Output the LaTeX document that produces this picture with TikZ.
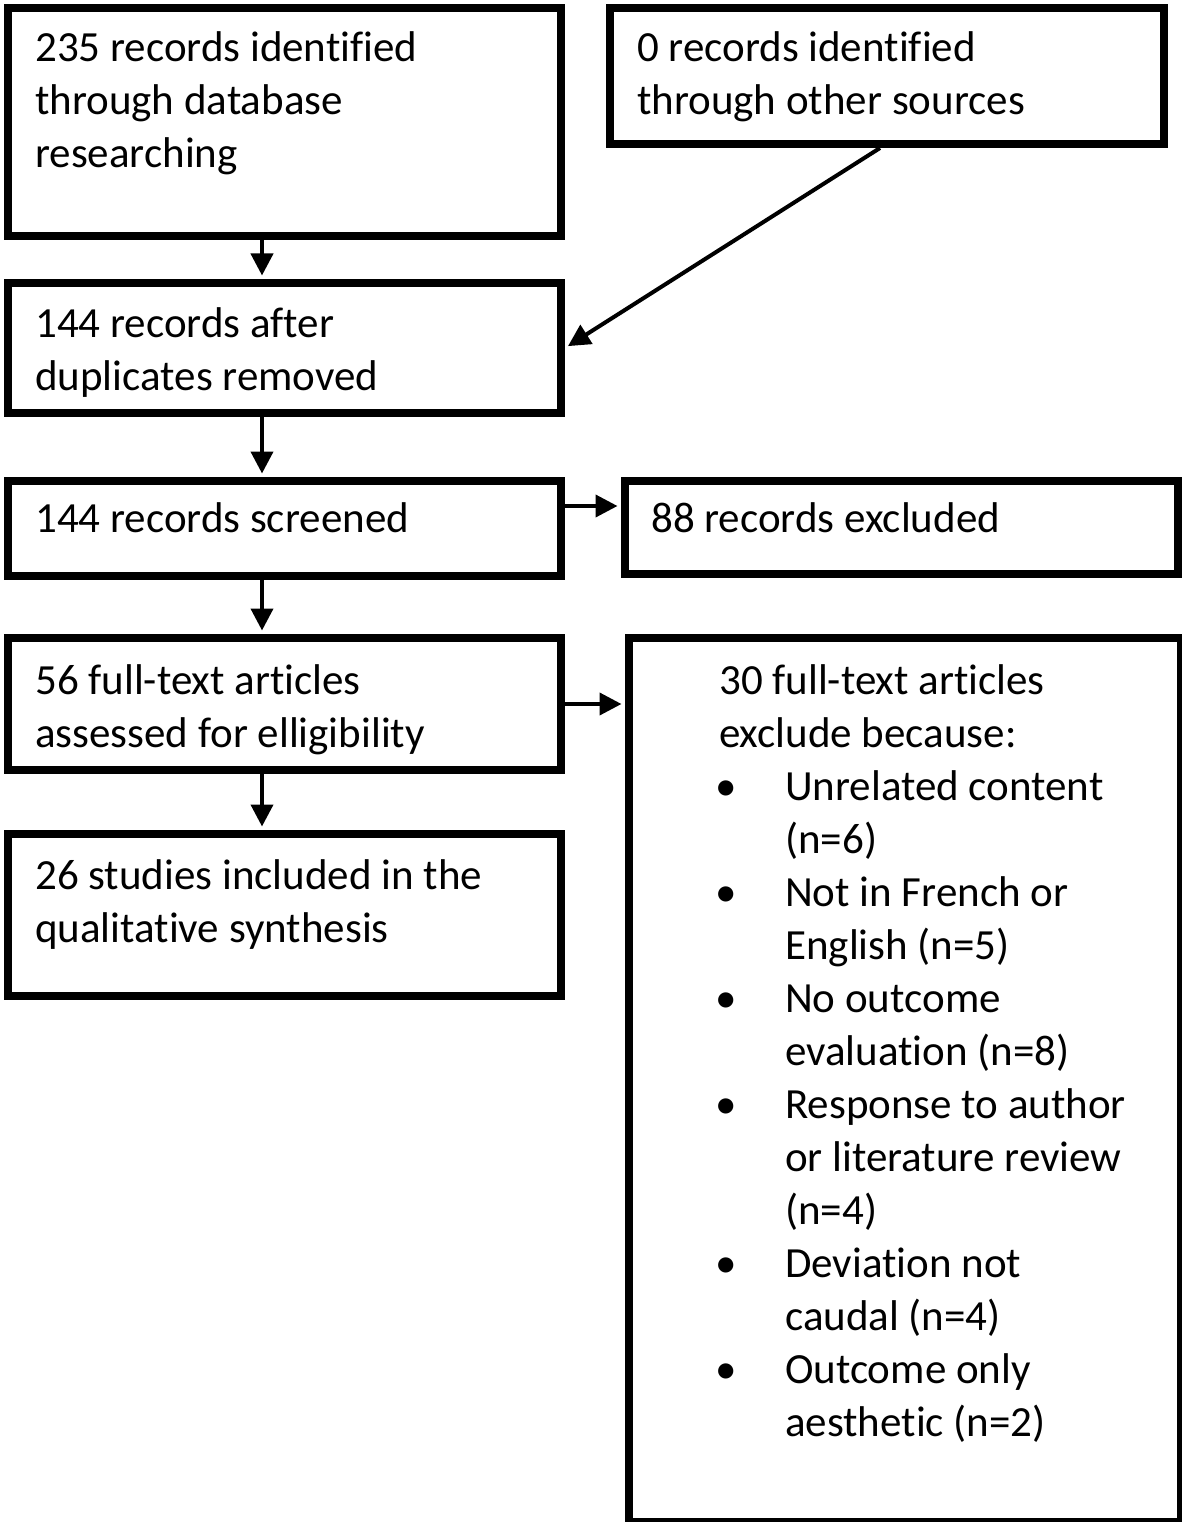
\documentclass[tikz,border=0pt]{standalone}
\usepackage{fontspec}
\setmainfont[Ligatures=NoCommon]{Carlito}
\usetikzlibrary{arrows.meta}
\tikzset{
  box/.style={draw=black, line width=8pt, rectangle, inner sep=0pt, anchor=north west},
  txt/.style={anchor=base west, inner sep=0pt, font=\fontsize{43}{53}\selectfont},
  arr/.style={draw=black, line width=4pt, -{Triangle[length=22pt,width=22pt]}, shorten >=3.5pt}
}
\newcommand{\bl}{\makebox[66pt][l]{\hspace*{-4pt}•}}
\newcommand{\nb}{\hspace*{66pt}}
\begin{document}
\begin{tikzpicture}[x=1pt,y=-1pt]
\useasboundingbox (0,0) rectangle (1181,1522);
% boxes (centre line of border)
\node[box, minimum width=553pt, minimum height=228pt] (b1) at (4,4) {};
\node[box, minimum width=554pt, minimum height=136pt] (b2) at (606,4) {};
\node[box, minimum width=553pt, minimum height=130pt] (b3) at (4,279) {};
\node[box, minimum width=553pt, minimum height=95pt] (b4) at (4,477) {};
\node[box, minimum width=553pt, minimum height=93pt] (b5) at (621,477) {};
\node[box, minimum width=553pt, minimum height=132pt] (b6) at (4,634) {};
\node[box, minimum width=552pt, minimum height=884pt] (b7) at (625,634) {};
\node[box, minimum width=553pt, minimum height=162pt] (b8) at (4,830) {};
% texts
\node[txt] (t1) at (35,62) {\begin{tabular}[t]{@{}l@{}}235 records identified\\ through database\\ researching\end{tabular}};
\node[txt] (t2) at (637,62) {\begin{tabular}[t]{@{}l@{}}0 records identified\\ through other sources\end{tabular}};
\node[txt] (t3) at (35,337) {\begin{tabular}[t]{@{}l@{}}144 records after\\ duplicates removed\end{tabular}};
\node[txt] (t4) at (35,532) {144 records screened};
\node[txt] (t5) at (651,532) {88 records excluded};
\node[txt] (t6) at (35,694) {\begin{tabular}[t]{@{}l@{}}56 full-text articles\\ assessed for elligibility\end{tabular}};
\node[txt] (t7) at (719,694) {\begin{tabular}[t]{@{}l@{}}30 full-text articles\\ exclude because:\\
\bl Unrelated content\\ \nb(n=6)\\
\bl Not in French or\\ \nb English (n=5)\\
\bl No outcome\\ \nb evaluation (n=8)\\
\bl Response to author\\ \nb or literature review\\ \nb (n=4)\\
\bl Deviation not\\ \nb caudal (n=4)\\
\bl Outcome only\\ \nb aesthetic (n=2)\end{tabular}};
\node[txt] (t8) at (35,889) {\begin{tabular}[t]{@{}l@{}}26 studies included in the\\ qualitative synthesis\end{tabular}};
% connectors
\coordinate (vx) at (262,0);
\coordinate (dx) at (880,0);
\coordinate (hy) at (0,506);
\draw[arr] (b1.south -| vx) -- (b3.north -| vx);
\draw[arr] (b2.south -| dx) -- (b3.east);
\draw[arr] (b3.south -| vx) -- (b4.north -| vx);
\draw[arr] (b4.east |- hy) -- (b5.west |- hy);
\draw[arr] (b4.south -| vx) -- (b6.north -| vx);
\draw[arr] (b6.east) -- (b7.west |- b6.east);
\draw[arr] (b6.south -| vx) -- (b8.north -| vx);
\end{tikzpicture}
\end{document}
